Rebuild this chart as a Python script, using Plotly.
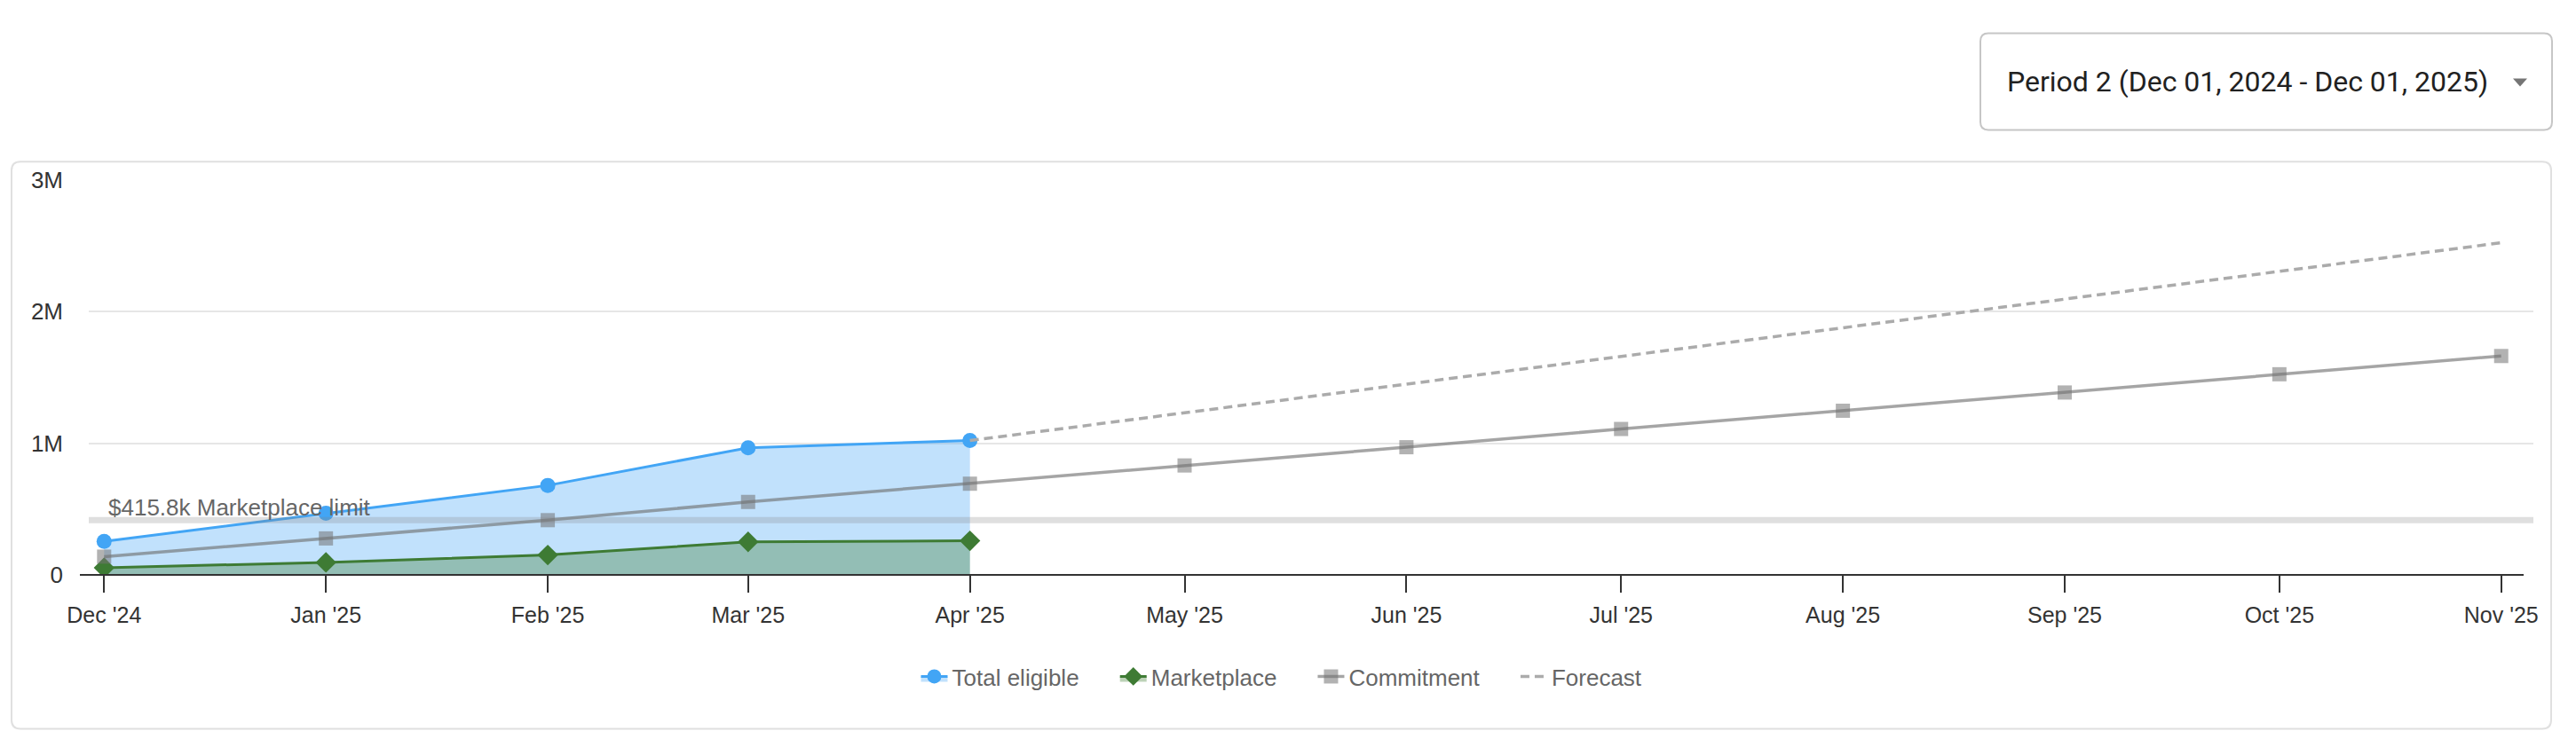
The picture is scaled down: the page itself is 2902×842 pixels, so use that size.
import plotly.graph_objects as go

# ---------------- data ----------------
months = ['2024-12-01', '2025-01-01', '2025-02-01', '2025-03-01', '2025-04-01', '2025-05-01',
          '2025-06-01', '2025-07-01', '2025-08-01', '2025-09-01', '2025-10-01', '2025-11-01']
tick_labels = ["Dec '24", "Jan '25", "Feb '25", "Mar '25", "Apr '25", "May '25",
               "Jun '25", "Jul '25", "Aug '25", "Sep '25", "Oct '25", "Nov '25"]
actual_months = ['2024-12-01', '2025-01-01', '2025-02-01', '2025-03-01', '2025-04-01']
total_eligible = [255000, 468000, 680000, 966000, 1021000]
marketplace = [54000, 95000, 151000, 251000, 259000]
commitment = [138600, 277200, 415800, 554400, 693000, 831600, 970200, 1108800,
              1247400, 1386000, 1524600, 1663200]
forecast_months = ['2025-04-01', '2025-11-01']
forecast = [1021000, 2524000]
marketplace_limit = 415800
limit_label = "$415.8k Marketplace limit"
y_ticks = [0, 1000000, 2000000, 3000000]
y_tick_labels = ['0', '1M', '2M', '3M']
series_names = ["Total eligible", "Marketplace", "Commitment", "Forecast"]
period_text = "Period 2 (Dec 01, 2024 - Dec 01, 2025)"

# ---------------- layout helpers (pixels -> paper) ----------------
W, H = 2902, 842
PL, PR, PT, PB = 100, 2854, 202.7, 648.3


def px(x):
    return (x - PL) / (PR - PL)


def py(y):
    return (PB - y) / (PB - PT)


def rrect(x0, y0, x1, y1, r):
    rx = r / (PR - PL)
    ry = r / (PB - PT)
    X0, X1 = px(x0), px(x1)
    Y0, Y1 = py(y0), py(y1)  # Y0 top (larger), Y1 bottom
    return (f"M{X0 + rx},{Y0} L{X1 - rx},{Y0} Q{X1},{Y0} {X1},{Y0 - ry} "
            f"L{X1},{Y1 + ry} Q{X1},{Y1} {X1 - rx},{Y1} L{X0 + rx},{Y1} "
            f"Q{X0},{Y1} {X0},{Y1 + ry} L{X0},{Y0 - ry} Q{X0},{Y0} {X0 + rx},{Y0} Z")


FONT = "Liberation Sans, Arial, sans-serif"
PAD = "&nbsp;" * 5  # spacing between legend entries

fig = go.Figure()

fig.add_trace(go.Scatter(
    x=actual_months, y=total_eligible, name=series_names[0] + PAD, mode="lines+markers",
    line=dict(color="#42a5f5", width=3), marker=dict(symbol="circle", size=17, color="#42a5f5"),
    fill="tozeroy", fillcolor="rgba(66,165,245,0.33)"))

fig.add_trace(go.Scatter(
    x=actual_months, y=marketplace, name=series_names[1] + PAD, mode="lines+markers",
    line=dict(color="#3e7b34", width=3), marker=dict(symbol="diamond", size=18, color="#3e7b34"),
    fill="tozeroy", fillcolor="rgba(62,125,50,0.35)"))

fig.add_trace(go.Scatter(
    x=months, y=commitment, name=series_names[2] + PAD, mode="lines+markers",
    line=dict(color="rgba(110,110,110,0.62)", width=3.5),
    marker=dict(symbol="square", size=16, color="rgba(115,115,115,0.55)")))

fig.add_trace(go.Scatter(
    x=forecast_months, y=forecast, name=series_names[3], mode="lines",
    line=dict(color="#ababab", width=3.5, dash="10px,6px")))

shapes = [
    # chart card
    dict(type="path", xref="paper", yref="paper", path=rrect(13, 182, 2874, 822, 10),
         line=dict(color="#e0e0e0", width=2), fillcolor="rgba(0,0,0,0)", layer="below"),
    # dropdown box
    dict(type="path", xref="paper", yref="paper", path=rrect(2231, 37, 2875, 146, 9),
         line=dict(color="#c6c6c6", width=2), fillcolor="rgba(0,0,0,0)", layer="below"),
    # dropdown arrow
    dict(type="path", xref="paper", yref="paper",
         path=f"M{px(2831)},{py(88)} L{px(2847)},{py(88)} L{px(2839)},{py(97)} Z",
         line=dict(width=0), fillcolor="#757575"),
    # marketplace limit plot line
    dict(type="line", xref="paper", yref="y", x0=0, x1=1, y0=marketplace_limit, y1=marketplace_limit,
         line=dict(color="rgba(130,130,130,0.26)", width=7), layer="above"),
    # x axis line
    dict(type="line", xref="paper", yref="paper", x0=px(90), x1=px(2843), y0=0, y1=0,
         line=dict(color="#333333", width=2), layer="above"),
]

annotations = [
    dict(text=limit_label, xref="paper", yref="y", x=px(120), y=marketplace_limit,
         xanchor="left", yanchor="bottom", showarrow=False, yshift=-3,
         font=dict(family=FONT, size=26, color="#666666")),
    dict(text=period_text, xref="paper", yref="paper", x=px(2259), y=py(91.7),
         xanchor="left", yanchor="middle", showarrow=False,
         font=dict(family="Roboto, sans-serif", size=32, color="#212121")),
]

fig.update_layout(
    width=W, height=H,
    margin=dict(l=PL, r=W - PR, t=PT, b=H - PB, pad=0),
    paper_bgcolor="white", plot_bgcolor="white",
    font=dict(family=FONT, size=25, color="#333333"),
    showlegend=True,
    legend=dict(orientation="h", x=px(1444), xanchor="center", y=py(763), yanchor="middle",
                font=dict(family=FONT, size=26, color="#666666"), bgcolor="rgba(0,0,0,0)",
                traceorder="normal"),
    shapes=shapes, annotations=annotations,
    xaxis=dict(type="date", range=['2024-11-28 20:30', '2025-11-05 12:00'],
               tickvals=months, ticktext=tick_labels, ticks="outside", ticklen=19, tickwidth=2,
               tickcolor="#333333", showgrid=False, showline=False, zeroline=False,
               tickfont=dict(family=FONT, size=25, color="#333333"), ticklabelstandoff=4,
               fixedrange=True),
    yaxis=dict(range=[0, 3000000], tickvals=y_ticks, ticktext=y_tick_labels,
               showgrid=True, gridcolor="#e6e6e6", gridwidth=2, zeroline=False, showline=False,
               tickfont=dict(family=FONT, size=26, color="#333333"), ticklabelstandoff=28,
               fixedrange=True),
    hovermode=False,
)

fig.write_html("out.html", config={"displayModeBar": False},
               post_script="document.body.style.margin='0';")
